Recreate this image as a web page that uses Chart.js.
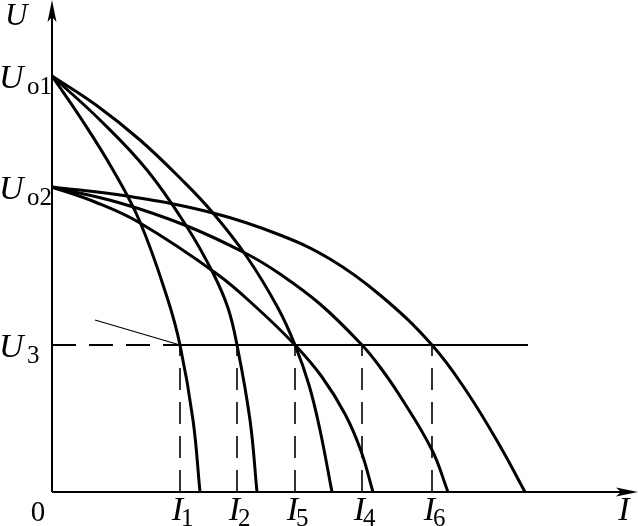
<!DOCTYPE html>
<html>
<head>
<meta charset="utf-8">
<script src="https://cdn.jsdelivr.net/npm/chart.js@4"></script>
<style>
  html, body { margin: 0; padding: 0; background: #fff; }
  #wrap { width: 638px; height: 526px; }
</style>
</head>
<body>
<div id="wrap"><canvas id="chart" width="638" height="526"></canvas></div>
<script>
// Levels on the U axis (arbitrary units)
const U_O1 = 416;
const U_O2 = 305;
const U_3 = 147;

// Currents where the curves cut U3, in axis order
const currentNames = ['1', '2', '5', '4', '6'];
const currentValues = [128, 185, 243, 310, 380];

// Three curves starting at Uo1
const curveA_I = [0, 30, 61, 88, 115, 128, 141, 148];
const curveA_U = [416, 372, 322, 270, 195, 147, 72, 0];
const curveB_I = [0, 48, 95, 135, 161, 176, 185, 198, 205];
const curveB_U = [416, 372, 322, 265, 219, 184, 147, 72, 0];
const curveC_I = [0, 44, 88, 130, 161, 195, 226, 243, 257, 268, 280];
const curveC_U = [416, 387, 352, 312, 279, 235, 184, 147, 107, 62, 0];

// Three curves starting at Uo2
const curveD_I = [0, 43, 88, 165, 205, 243, 270, 293, 309, 321];
const curveD_U = [305, 290, 269, 218, 184, 147, 115, 78, 41, 0];
const curveE_I = [0, 68, 135, 195, 228, 268, 310, 328, 348, 380, 396];
const curveE_U = [305, 289, 266, 238, 218, 188, 147, 125, 96, 42, 0];
const curveF_I = [0, 75, 161, 228, 278, 328, 380, 415, 448, 473];
const curveF_U = [305, 296, 279, 257, 233, 197, 147, 100, 46, 0];

// Horizontal U3 line end and the little pointer line
const u3LineEnd = 476;
const pointerI = [43, 128];
const pointerU = [172, 147];

// Axis extent
const I_MAX = 586;
const U_MAX = 492;

function pts(xs, ys) {
  return xs.map((x, i) => ({ x: x, y: ys[i] }));
}

function curve(xs, ys) {
  return {
    data: pts(xs, ys),
    showLine: true,
    borderColor: '#000',
    borderWidth: 3,
    pointRadius: 0,
    fill: false,
    tension: 0.4
  };
}

function straight(xs, ys, width, dash) {
  return {
    data: pts(xs, ys),
    showLine: true,
    borderColor: '#000',
    borderWidth: width,
    borderDash: dash || [],
    pointRadius: 0,
    fill: false,
    tension: 0
  };
}

const datasets = [
  curve(curveA_I, curveA_U),
  curve(curveB_I, curveB_U),
  curve(curveC_I, curveC_U),
  curve(curveD_I, curveD_U),
  curve(curveE_I, curveE_U),
  curve(curveF_I, curveF_U),
  straight([0, currentValues[0]], [U_3, U_3], 1.8, [24, 13]),
  straight([currentValues[0], u3LineEnd], [U_3, U_3], 2),
  straight(pointerI, pointerU, 1.3)
];
currentValues.forEach(v => {
  datasets.push(straight([v, v], [0, U_3], 1.6, [22, 12]));
});

const axesPlugin = {
  id: 'axesPlugin',
  afterDatasetsDraw(chart) {
    const ctx = chart.ctx;
    const xs = chart.scales.x;
    const ys = chart.scales.y;
    const x0 = xs.getPixelForValue(0);
    const y0 = ys.getPixelForValue(0);
    const xEnd = xs.getPixelForValue(I_MAX);
    const yTop = ys.getPixelForValue(U_MAX);
    ctx.save();
    ctx.strokeStyle = '#000';
    ctx.fillStyle = '#000';
    ctx.lineWidth = 2;
    ctx.beginPath();
    ctx.moveTo(x0, y0);
    ctx.lineTo(x0, yTop + 12);
    ctx.moveTo(x0, y0);
    ctx.lineTo(xEnd - 12, y0);
    ctx.stroke();
    // arrow heads
    ctx.beginPath();
    ctx.moveTo(x0, yTop);
    ctx.lineTo(x0 - 4.5, yTop + 22);
    ctx.lineTo(x0, yTop + 17);
    ctx.lineTo(x0 + 4.5, yTop + 22);
    ctx.closePath();
    ctx.fill();
    ctx.beginPath();
    ctx.moveTo(xEnd, y0);
    ctx.lineTo(xEnd - 22, y0 - 4.5);
    ctx.lineTo(xEnd - 17, y0);
    ctx.lineTo(xEnd - 22, y0 + 4.5);
    ctx.closePath();
    ctx.fill();

    const big = 'italic 34px "Liberation Serif", "Times New Roman", serif';
    const sub = '25px "Liberation Serif", "Times New Roman", serif';
    ctx.textBaseline = 'alphabetic';

    // U-axis labels
    ctx.font = 'italic 31px "Liberation Serif", "Times New Roman", serif';
    ctx.textAlign = 'left';
    ctx.fillText('U', 5, 25);
    const uLabel = (val, subTxt) => {
      const y = ys.getPixelForValue(val);
      ctx.font = big;
      ctx.textAlign = 'left';
      ctx.fillText('U', -1, y + 12);
      ctx.font = sub;
      ctx.fillText(subTxt, 27, y + 18);
    };
    uLabel(U_O1, 'o1');
    uLabel(U_O2, 'o2');
    uLabel(U_3, '3');

    // origin
    ctx.font = '29px "Liberation Serif", "Times New Roman", serif';
    ctx.textAlign = 'center';
    ctx.fillText('0', x0 - 14, y0 + 29);

    // I labels
    currentValues.forEach((v, i) => {
      const x = xs.getPixelForValue(v);
      ctx.font = big;
      ctx.textAlign = 'right';
      ctx.fillText('I', x + 3, y0 + 28);
      ctx.font = sub;
      ctx.textAlign = 'left';
      ctx.fillText(currentNames[i], x + 1, y0 + 34);
    });
    ctx.font = big;
    ctx.textAlign = 'center';
    ctx.fillText('I', xEnd - 14, y0 + 28);
    ctx.restore();
  }
};

new Chart(document.getElementById('chart'), {
  type: 'scatter',
  data: { datasets: datasets },
  options: {
    responsive: false,
    animation: false,
    layout: { padding: 0 },
    plugins: { legend: { display: false }, tooltip: { enabled: false } },
    scales: {
      x: { type: 'linear', display: false, min: -52, max: I_MAX },
      y: { type: 'linear', display: false, min: -34, max: U_MAX }
    }
  },
  plugins: [axesPlugin]
});
</script>
</body>
</html>
